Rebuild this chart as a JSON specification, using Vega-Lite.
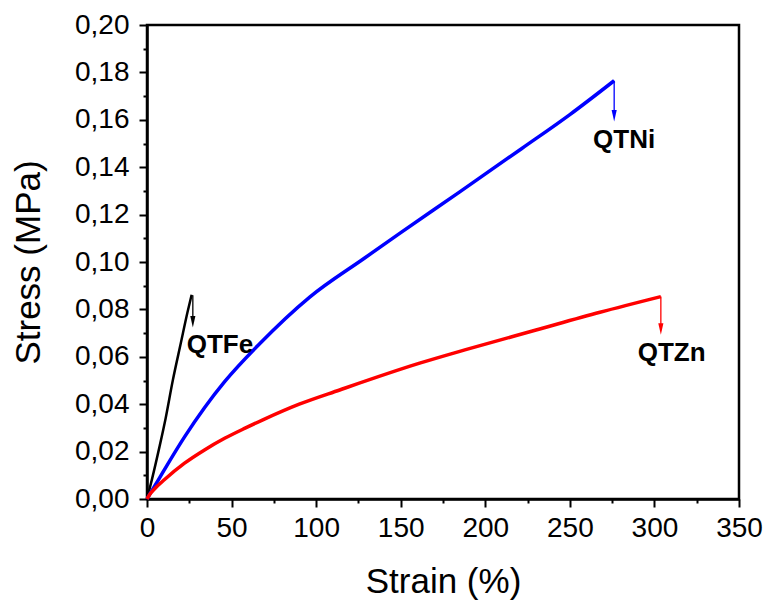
{
  "$schema": "https://vega.github.io/schema/vega-lite/v6.json",
  "autosize": {"type": "none"},
  "padding": {"left": 147, "top": 25, "right": 28, "bottom": 103},
  "width": 592,
  "height": 474,
  "background": "white",
  "config": {
    "view": {"stroke": "black", "strokeWidth": 2.5},
    "font": "Liberation Sans"
  },
  "datasets": {
    "curves": [
      {"series": "QTFe", "strain": 0, "stress": 0},
      {"series": "QTFe", "strain": 3, "stress": 0.0085},
      {"series": "QTFe", "strain": 7.4, "stress": 0.0221},
      {"series": "QTFe", "strain": 11, "stress": 0.034},
      {"series": "QTFe", "strain": 15.3, "stress": 0.0502},
      {"series": "QTFe", "strain": 20, "stress": 0.0658},
      {"series": "QTFe", "strain": 24, "stress": 0.079},
      {"series": "QTFe", "strain": 26.4, "stress": 0.0862},
      {"series": "QTNi", "strain": 0, "stress": 0},
      {"series": "QTNi", "strain": 2, "stress": 0.0025},
      {"series": "QTNi", "strain": 5, "stress": 0.006},
      {"series": "QTNi", "strain": 10.4, "stress": 0.0125},
      {"series": "QTNi", "strain": 22.2, "stress": 0.0262},
      {"series": "QTNi", "strain": 34, "stress": 0.0385},
      {"series": "QTNi", "strain": 45.9, "stress": 0.0495},
      {"series": "QTNi", "strain": 66.6, "stress": 0.0655},
      {"series": "QTNi", "strain": 96.2, "stress": 0.0852},
      {"series": "QTNi", "strain": 128.7, "stress": 0.1017},
      {"series": "QTNi", "strain": 149.4, "stress": 0.1121},
      {"series": "QTNi", "strain": 184.9, "stress": 0.1296},
      {"series": "QTNi", "strain": 221.4, "stress": 0.1478},
      {"series": "QTNi", "strain": 250, "stress": 0.1622},
      {"series": "QTNi", "strain": 276.2, "stress": 0.1765},
      {"series": "QTZn", "strain": 0, "stress": 0},
      {"series": "QTZn", "strain": 1.5, "stress": 0.0018},
      {"series": "QTZn", "strain": 4.4, "stress": 0.0042},
      {"series": "QTZn", "strain": 10.4, "stress": 0.0082},
      {"series": "QTZn", "strain": 22.2, "stress": 0.0151},
      {"series": "QTZn", "strain": 34, "stress": 0.0207},
      {"series": "QTZn", "strain": 45.9, "stress": 0.0256},
      {"series": "QTZn", "strain": 57.7, "stress": 0.0298},
      {"series": "QTZn", "strain": 68.5, "stress": 0.0334},
      {"series": "QTZn", "strain": 90, "stress": 0.0400},
      {"series": "QTZn", "strain": 113.9, "stress": 0.046},
      {"series": "QTZn", "strain": 161.2, "stress": 0.0573},
      {"series": "QTZn", "strain": 187.9, "stress": 0.0629},
      {"series": "QTZn", "strain": 230, "stress": 0.0713},
      {"series": "QTZn", "strain": 267.8, "stress": 0.0788},
      {"series": "QTZn", "strain": 303.8, "stress": 0.0854}
    ],
    "arrows": [
      {"series": "QTFe", "strain": 27.1, "top": 0.086, "head": 0.0748},
      {"series": "QTNi", "strain": 276.2, "top": 0.1765, "head": 0.1617},
      {"series": "QTZn", "strain": 303.8, "top": 0.0854, "head": 0.0717}
    ],
    "labels": [
      {"label": "QTFe", "strain": 43.1, "stress": 0.0615},
      {"label": "QTNi", "strain": 282.1, "stress": 0.148},
      {"label": "QTZn", "strain": 310.2, "stress": 0.0584}
    ]
  },
  "encoding": {
    "x": {
      "field": "strain",
      "type": "quantitative",
      "scale": {"domain": [0, 350], "nice": false, "zero": false},
      "axis": {
        "title": "Strain (%)",
        "values": [0, 25, 50, 75, 100, 125, 150, 175, 200, 225, 250, 275, 300, 325, 350],
        "labelExpr": "datum.value % 50 === 0 ? datum.label : ''",
        "labelOverlap": false,
        "labelBound": false,
        "labelFlush": false,
        "labelFontSize": 28,
        "labelFont": "Liberation Sans",
        "labelColor": "black",
        "labelPadding": 7,
        "grid": false,
        "domainColor": "black",
        "domainWidth": 2.5,
        "tickColor": "black",
        "tickWidth": 2,
        "tickSize": {"condition": {"test": "datum.value % 50 === 0", "value": 8}, "value": 4},
        "titleFont": "Liberation Sans",
        "titleFontSize": 35,
        "titleFontWeight": "normal",
        "titleColor": "black",
        "titleX": 296,
        "titleY": 93,
        "titleBaseline": "alphabetic",
        "titleAlign": "center"
      }
    },
    "y": {
      "field": "stress",
      "type": "quantitative",
      "scale": {"domain": [0, 0.2], "nice": false, "zero": false},
      "axis": {
        "title": "Stress (MPa)",
        "values": [0, 0.01, 0.02, 0.03, 0.04, 0.05, 0.06, 0.07, 0.08, 0.09, 0.1, 0.11, 0.12, 0.13, 0.14, 0.15, 0.16, 0.17, 0.18, 0.19, 0.2],
        "labelExpr": "round(datum.value * 100) % 2 === 0 ? replace(format(datum.value, '.2f'), '.', ',') : ''",
        "labelOverlap": false,
        "labelBound": false,
        "labelFlush": false,
        "labelFontSize": 28,
        "labelFont": "Liberation Sans",
        "labelColor": "black",
        "labelPadding": 10,
        "grid": false,
        "domainColor": "black",
        "domainWidth": 2.5,
        "tickColor": "black",
        "tickWidth": 2,
        "tickSize": {"condition": {"test": "round(datum.value * 100) % 2 === 0", "value": 8}, "value": 4},
        "titleFont": "Liberation Sans",
        "titleFontSize": 35,
        "titleFontWeight": "normal",
        "titleColor": "black",
        "titleAngle": -90,
        "titleX": -108,
        "titleY": 237,
        "titleBaseline": "alphabetic",
        "titleAlign": "center"
      }
    }
  },
  "layer": [
    {
      "data": {"name": "curves"},
      "transform": [{"filter": "datum.series === 'QTFe'"}],
      "mark": {"type": "line", "strokeWidth": 2.5, "color": "black", "interpolate": "monotone"},
      "encoding": {"order": {"field": "strain", "type": "quantitative"}}
    },
    {
      "data": {"name": "curves"},
      "transform": [{"filter": "datum.series !== 'QTFe'"}],
      "mark": {"type": "line", "strokeWidth": 3.5, "interpolate": "monotone"},
      "encoding": {
        "color": {
          "field": "series",
          "type": "nominal",
          "scale": {"domain": ["QTFe", "QTNi", "QTZn"], "range": ["#000000", "#0000ff", "#ff0000"]},
          "legend": null
        },
        "order": {"field": "strain", "type": "quantitative"}
      }
    },
    {
      "data": {"name": "arrows"},
      "mark": {"type": "rule", "strokeWidth": 1.3},
      "encoding": {
        "y": {"field": "top", "type": "quantitative"},
        "y2": {"field": "head"},
        "color": {
          "field": "series",
          "type": "nominal",
          "scale": {"domain": ["QTFe", "QTNi", "QTZn"], "range": ["#000000", "#0000ff", "#ff0000"]},
          "legend": null
        }
      }
    },
    {
      "data": {"name": "arrows"},
      "mark": {"type": "point", "shape": "M-0.45,-1L0.45,-1L0,1Z", "size": 130, "filled": true, "opacity": 1, "strokeWidth": 0},
      "encoding": {
        "y": {"field": "head", "type": "quantitative"},
        "color": {
          "field": "series",
          "type": "nominal",
          "scale": {"domain": ["QTFe", "QTNi", "QTZn"], "range": ["#000000", "#0000ff", "#ff0000"]},
          "legend": null
        }
      }
    },
    {
      "data": {"name": "labels"},
      "mark": {"type": "text", "font": "Liberation Sans", "fontSize": 26, "fontWeight": "bold", "color": "black", "align": "center", "baseline": "alphabetic"},
      "encoding": {"text": {"field": "label", "type": "nominal"}}
    }
  ]
}
